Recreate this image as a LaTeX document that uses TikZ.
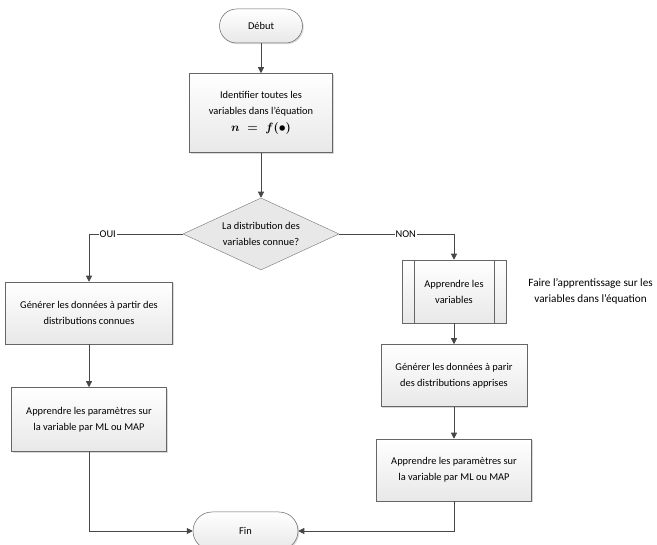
\documentclass[tikz,border=0pt]{standalone}
\usepackage{fontspec}
\setmainfont{Carlito}
\usetikzlibrary{positioning, shapes.geometric, arrows.meta, shadows}

\tikzset{
  txt/.style={font=\fontsize{10.4}{16}\selectfont},
  process/.style={txt, draw=black!60, line width=0.5pt, top color=white, bottom color=black!9,
    drop shadow={shadow xshift=1.2pt, shadow yshift=-1.2pt, opacity=0.25, fill=black!60},
    align=center, inner sep=2pt},
  terminal/.style={process, rounded corners=17pt, minimum height=34pt},
  predef/.style={process, path picture={
    \draw[black!60] ([xshift=12pt]path picture bounding box.north west) -- ([xshift=12pt]path picture bounding box.south west)
      ([xshift=-12pt]path picture bounding box.north east) -- ([xshift=-12pt]path picture bounding box.south east);}},
  decision/.style={txt, diamond, draw=black!55, fill=black!9, aspect=2.2, inner sep=0pt, align=center,
    minimum width=156pt, minimum height=72pt},
  link/.style={draw=black!72, line width=0.7pt},
  arr/.style={link, -{Triangle[length=6pt,width=6pt]}},
  lbl/.style={txt, fill=white, inner sep=1pt}
}

\begin{document}
\begin{tikzpicture}[x=1pt, y=-1pt]
\useasboundingbox (0,0) rectangle (657,545);

% main column
\node[terminal, minimum width=83pt] (debut) at (261,26) {Début} ;
\node[process, minimum width=143pt, minimum height=79pt] (ident) [below=30pt of debut]
  {Identifier toutes les\\variables dans l'équation\\[1pt]{\fontsize{12.5}{12.5}\selectfont\mathversion{bold}$n \;=\; f(\bullet)$}} ;
\node[decision] (dec) [below=45pt of ident] {La distribution des\\variables connue?} ;

% OUI branch
\node[process, minimum width=167pt, minimum height=62pt] (genA) at (89,313) {Générer les données à partir des\\distributions connues} ;
\node[process, minimum width=155pt, minimum height=64pt] (learnA) [below=43pt of genA] {Apprendre les paramètres sur\\la variable par ML ou MAP} ;

% NON branch
\node[predef, minimum width=104pt, minimum height=63pt] (learnvar) at (454,291.5) {Apprendre les\\variables} ;
\node[txt, font=\fontsize{11.2}{16}\selectfont, align=center, inner xsep=0pt] (note) [right=22pt of learnvar] {Faire l'apprentissage sur les\\variables dans l'équation} ;
\node[process, minimum width=146pt, minimum height=62pt] (genB) [below=21pt of learnvar] {Générer les données à parir\\des distributions apprises} ;
\node[process, minimum width=155pt, minimum height=62pt] (learnB) [below=32pt of genB] {Apprendre les paramètres sur\\la variable par ML ou MAP} ;

\node[terminal, minimum width=105pt, minimum height=38pt, rounded corners=19pt] (fin) at (245.5,531) {Fin} ;

\draw[arr] (debut) -- (ident);
\draw[arr] (ident) -- (dec);
\draw[arr] (dec.west) -| node[lbl, pos=0.4] {OUI} (genA.north);
\draw[arr] (dec.east) -| node[lbl, pos=0.29] {NON} (learnvar.north);
\draw[arr] (genA) -- (learnA);
\draw[arr] (learnvar) -- (genB);
\draw[arr] (genB) -- (learnB);
\draw[arr] (learnA.south) |- (fin.west);
\draw[arr] (learnB.south) |- (fin.east);
\end{tikzpicture}
\end{document}
